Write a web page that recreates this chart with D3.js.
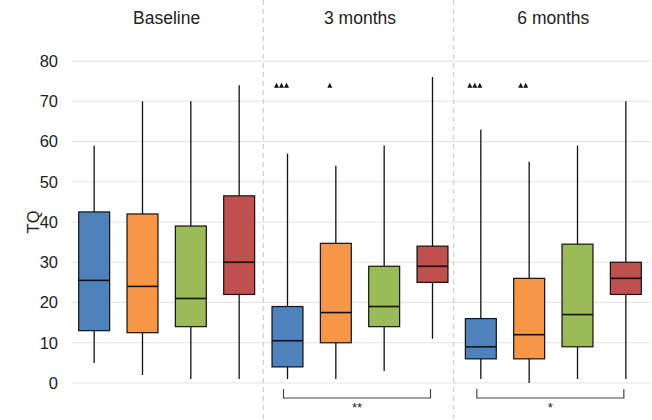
<!DOCTYPE html>
<html><head><meta charset="utf-8">
<script src="https://cdn.jsdelivr.net/npm/d3@7"></script>
<style>body{margin:0;background:#fff}svg{display:block}text{font-family:Arial,"Liberation Sans",sans-serif}</style>
</head><body>
<script>
const panels = ["Baseline", "3 months", "6 months"];
const groups = ["G1", "G2", "G3", "G4"];
const colors = ["#4f81bd", "#f79646", "#9bbb59", "#c0504d"];
// per box: [whiskerLow, Q1, median, Q3, whiskerHigh], order: panel x group
const whiskerLow  = [5, 2, 1, 1,   1, 1, 3, 11,   1, 0, 1, 1];
const q1          = [13, 12.5, 14, 22,   4, 10, 14, 25,   6, 6, 9, 22];
const median      = [25.5, 24, 21, 30,   10.5, 17.5, 19, 29,   9, 12, 17, 26];
const q3          = [42.5, 42, 39, 46.5,   19, 34.7, 29, 34,   16, 26, 34.5, 30];
const whiskerHigh = [59, 70, 70, 74,   57, 54, 59, 76,   63, 55, 59, 70];
const outliers    = [[], [], [], [],   [74, 74, 74], [74], [], [],   [74, 74, 74], [74, 74], [], []];
const yTicks = [0, 10, 20, 30, 40, 50, 60, 70, 80];
const brackets = [{panel: 1, label: "**"}, {panel: 2, label: "*"}];

const W = 652, H = 420;
const svg = d3.select("body").append("svg").attr("width", W).attr("height", H);
const y = d3.scaleLinear().domain([0, 80]).range([383, 61]);
const keys = d3.range(12);
const x = d3.scaleBand().domain(keys).range([70, 650]).paddingInner(0.36).paddingOuter(0.18);
const bw = x.bandwidth();
const cx = i => x(i) + bw / 2;

// gridlines
svg.append("g").selectAll("line").data(yTicks).join("line")
  .attr("x1", 72).attr("x2", 650).attr("y1", d => y(d)).attr("y2", d => y(d))
  .attr("stroke", "#e3e3e3").attr("stroke-width", 1.2);

// y axis labels
const yAxis = d3.axisLeft(y).tickValues(yTicks).tickSize(0).tickPadding(0);
const ga = svg.append("g").attr("transform", "translate(58,0)").call(yAxis);
ga.select(".domain").remove();
ga.selectAll("text").attr("font-size", 16.5).attr("fill", "#222").attr("font-family", "Arial, 'Liberation Sans', sans-serif");

svg.append("text").attr("transform", "translate(39,222) rotate(-90)").attr("text-anchor", "middle")
  .attr("font-size", 16.5).attr("fill", "#222").text("TQ");

// separators
[3.5, 7.5].forEach(k => {
  const sx = (cx(Math.floor(k)) + cx(Math.ceil(k))) / 2 - (k > 5 ? 3 : 0);
  svg.append("line").attr("x1", sx).attr("x2", sx).attr("y1", 0).attr("y2", H)
    .attr("stroke", "#cfcfcf").attr("stroke-width", 1.2).attr("stroke-dasharray", "5,4");
});

// panel titles
panels.forEach((p, i) => {
  const mx = (cx(i * 4) + cx(i * 4 + 3)) / 2;
  svg.append("text").attr("x", mx).attr("y", 24).attr("text-anchor", "middle")
    .attr("font-size", 17.5).attr("fill", "#222").text(p);
});

// boxes
const g = svg.append("g");
keys.forEach(i => {
  const c = cx(i);
  g.append("line").attr("x1", c).attr("x2", c).attr("y1", y(whiskerLow[i])).attr("y2", y(whiskerHigh[i]))
    .attr("stroke", "#111").attr("stroke-width", 1.3);
  g.append("rect").attr("x", x(i)).attr("width", bw).attr("y", y(q3[i])).attr("height", y(q1[i]) - y(q3[i]))
    .attr("fill", colors[i % 4]).attr("stroke", "#111").attr("stroke-width", 1.2);
  g.append("line").attr("x1", x(i)).attr("x2", x(i) + bw).attr("y1", y(median[i])).attr("y2", y(median[i]))
    .attr("stroke", "#111").attr("stroke-width", 1.6);
  const n = outliers[i].length;
  outliers[i].forEach((v, j) => {
    const ox = c - 6 + (j - (n - 1) / 2) * 5;
    const oy = y(v);
    g.append("path").attr("d", `M${ox - 2.5},${oy + 2.5}L${ox + 2.5},${oy + 2.5}L${ox},${oy - 2.5}Z`).attr("fill", "#111");
  });
});

// brackets
brackets.forEach(b => {
  const x1 = cx(b.panel * 4) - 4, x2 = cx(b.panel * 4 + 3) - 2;
  svg.append("path").attr("d", `M${x1},389V398H${x2}V389`).attr("fill", "none").attr("stroke", "#444").attr("stroke-width", 1.2);
  svg.append("text").attr("x", (x1 + x2) / 2).attr("y", 412).attr("text-anchor", "middle")
    .attr("font-size", 13).attr("fill", "#222").text(b.label);
});
</script>
</body></html>
